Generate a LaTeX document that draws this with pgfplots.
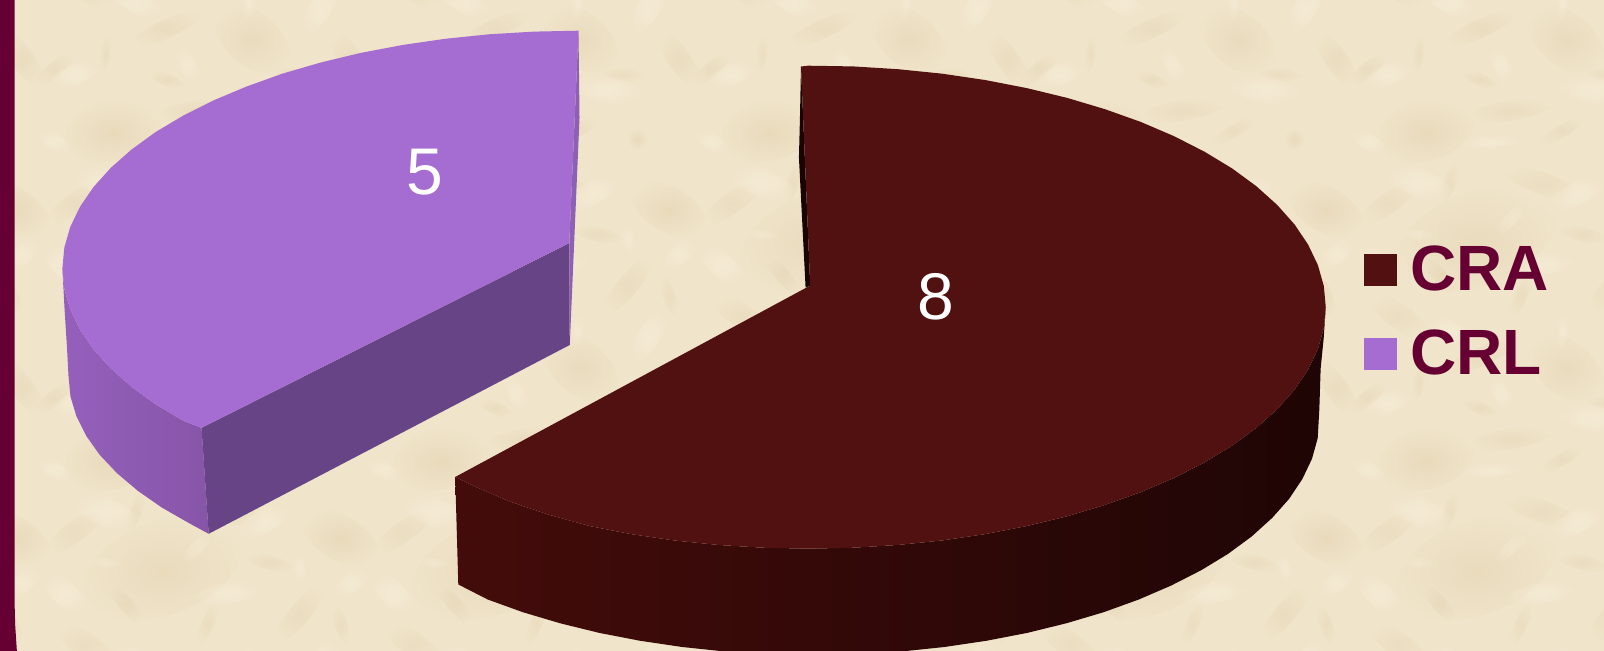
\documentclass[border=0pt]{standalone}
\usepackage{pgfplots}
\pgfplotsset{compat=1.18}
\usepackage{fontspec}
\setmainfont{Liberation Sans}
\usetikzlibrary{fadings}
\definecolor{paper}{HTML}{F0E4CA}
\definecolor{paperdark}{HTML}{DCC79E}
\definecolor{paperlight}{HTML}{FAF2DE}
\definecolor{frame}{HTML}{660033}
\definecolor{craTop}{HTML}{521111}
\definecolor{craSideL}{HTML}{430C0A}
\definecolor{craSideM}{HTML}{2C0707}
\definecolor{craSideR}{HTML}{1F0505}
\definecolor{craInner}{HTML}{1A0403}
\definecolor{crlTop}{HTML}{A56CD1}
\definecolor{crlSideL}{HTML}{9460BC}
\definecolor{crlSideR}{HTML}{8755A8}
\definecolor{crlFront}{HTML}{664485}
\definecolor{crlInner}{HTML}{8E60B5}
\tikzfading[name=soft, inner color=transparent!0, outer color=transparent!100]
\begin{document}
\begin{tikzpicture}
\useasboundingbox (0,0) rectangle (802pt,325.5pt);
% Paper background: flat tone with a repeated tile of soft, streaky mottling
\fill[paper] (0,0) rectangle (802pt,325.5pt);
\begin{scope}[x=0.5115pt,y=-0.5115pt,shift={(0pt,325.5pt)}]
\clip (0,0) rectangle (1568,636);
\foreach \ox in {-278,43,364,685,1006,1327}{
  \foreach \oy in {-162,159,480}{
    \foreach \bx/\by/\rx/\ry/\rt/\op in {116/75/80/46/20/.30,290/46/40/22/-30/.34,259/298/10/10/0/.35,67/289/48/30/15/.34,204/201/42/26/-40/.30,30/40/34/10/35/.24,180/20/40/11/-20/.24,250/120/36/10/50/.26,40/150/34/12/-35/.24,120/190/40/9/25/.26,300/220/34/11/-55/.26,150/270/42/10/10/.26,90/20/22/6/70/.24,220/70/26/7/-15/.26,10/230/24/7/40/.26,290/130/22/6/-70/.24,200/290/26/6/30/.24,80/110/26/7/-50/.26,160/130/24/6/65/.24,120/240/20/6/-25/.26,60/215/18/5/80/.24,245/235/22/6/-10/.24}{
      \fill[paperdark,opacity=\op,path fading=soft,rotate around={\rt:(\ox+\bx,\oy+\by)}] (\ox+\bx,\oy+\by) ellipse [x radius=\rx,y radius=\ry];
    }
    \foreach \bx/\by/\rx/\ry/\rt/\op in {60/20/40/14/-25/.50,215/30/36/11/30/.46,20/100/34/12/-45/.50,180/100/40/11/15/.46,90/165/34/10/-30/.46,270/170/36/11/55/.46,230/250/42/13/-15/.46,30/235/30/10/25/.46,140/225/26/8/-60/.42,300/90/26/9/40/.42,130/300/34/8/5/.46,10/300/26/8/-35/.42,250/75/20/6/-70/.38,150/55/24/6/45/.38,60/70/20/5/-10/.38,200/165/20/6/75/.38}{
      \fill[paperlight,opacity=\op,path fading=soft,rotate around={\rt:(\ox+\bx,\oy+\by)}] (\ox+\bx,\oy+\by) ellipse [x radius=\rx,y radius=\ry];
    }
  }
}
\end{scope}
\begin{axis}[
  at={(0,0)},anchor=south west,
  width=802pt,height=325.5pt,scale only axis,
  xmin=0,xmax=1568,ymin=0,ymax=636,y dir=reverse,
  hide axis,clip=true,
  legend style={at={(axis cs:1333,240)},anchor=north west,draw=none,fill=none,
    font=\bfseries\fontsize{32}{32}\selectfont,text=frame,
    inner xsep=0pt,inner ysep=0pt,row sep=18pt,
    nodes={inner xsep=0pt,inner ysep=0pt}},
  legend cell align=left,
  legend image code/.code={\fill[#1] (0pt,-8pt) rectangle (16.4pt,8pt);\path (23pt,0pt);},
]
% Slide frame along the left edge
\addplot[forget plot,fill=frame,draw=none] coordinates {
  (0,0)(14.3,0)(14.3,590)(14.8,610)(16.5,636)(0,636)} -- cycle;

% CRA: outer wall
\addplot[forget plot,draw=none,left color=craSideL,middle color=craSideM,right color=craSideR] coordinates {
  (1296,300)(1294.1,320.6)(1288.3,341)(1278.7,361.1)(1265.5,380.7)(1248.6,399.7)(1228.2,418)(1204.5,435.4)(1177.6,451.7)(1147.8,466.9)(1115.3,480.8)(1080.2,493.3)(1043,504.4)(1003.8,513.9)(963.1,521.8)(921,528)(877.8,532.4)(834.1,535.1)(790,536)(745.9,535.1)(702.2,532.4)(659,528)(616.9,521.8)(576.2,513.9)(537,503)(499.8,490.5)(464.7,475.5)(445,466)
  (448,571)(476.8,585.7)(511.1,598.1)(547.5,608.9)(585.8,618.3)(625.7,626)(666.9,632.1)(709,636.5)(751.8,639.1)(795,640)(838.2,639.1)(881,636.5)(923.1,632.1)(964.3,626)(1004.2,618.3)(1042.5,608.9)(1078.9,598.1)(1113.2,585.7)(1145,572)(1174.2,557.1)(1200.5,541.1)(1223.7,524)(1243.6,506)(1260.2,487.3)(1273.1,468)(1282.5,448.3)(1288.1,428.2)(1289.7,400)(1291,360)(1294,330)} -- cycle;
% CRA: inner wall seen beside the top face
\addplot[forget plot,fill=craInner,draw=none] coordinates {
  (783,65)(782,115)(781,154)(787.5,281)(792,279)} -- cycle;
% CRA: top face
\addplot[fill=craTop,draw=none] coordinates {
  (792,279)(783,65)(790,64.2)(834.1,64.9)(877.8,67.6)(921,72)(963.1,78.2)(1003.8,86.1)(1043,95.6)(1080.2,106.7)(1115.3,119.2)(1147.8,133.1)(1177.6,148.3)(1204.5,164.6)(1228.2,182)(1248.6,200.3)(1265.5,219.3)(1278.7,238.9)(1288.3,259)(1294.1,279.4)(1296,300)(1294.1,320.6)(1288.3,341)(1278.7,361.1)(1265.5,380.7)(1248.6,399.7)(1228.2,418)(1204.5,435.4)(1177.6,451.7)(1147.8,466.9)(1115.3,480.8)(1080.2,493.3)(1043,504.4)(1003.8,513.9)(963.1,521.8)(921,528)(877.8,532.4)(834.1,535.1)(790,536)(745.9,535.1)(702.2,532.4)(659,528)(616.9,521.8)(576.2,513.9)(537,503)(499.8,490.5)(464.7,475.5)(445,466)} -- cycle;
\addlegendentry{CRA}

% CRL: outer wall
\addplot[forget plot,draw=none,left color=crlSideL,right color=crlSideR] coordinates {
  (61,262)(62.9,282.2)(68.7,302.3)(78.2,322)(91.4,341.3)(108.3,360)(128.7,378)(152.3,395.1)(179.2,411.1)(197,418)
  (204,521.5)(185.2,511.3)(158.3,495.9)(134.7,479.5)(114.3,462.2)(97.4,444.3)(84.2,425.7)(74.7,406.7)(68.9,387.4)(67,368)(65.5,340)(63,300)} -- cycle;
% CRL: front wall
\addplot[forget plot,fill=crlFront,draw=none] coordinates {
  (197,418)(556.5,237.5)(557,337)(204,521.5)} -- cycle;
% CRL: inner wall seen at the right
\addplot[forget plot,fill=crlInner,draw=none] coordinates {
  (565.5,30)(566.5,115)(557,337)(556.5,237.5)} -- cycle;
% CRL: top face
\addplot[fill=crlTop,draw=none] coordinates {
  (556.5,237.5)(565.5,30)(522,30.9)(478.3,33.5)(435.3,37.9)(393.3,44)(352.6,51.7)(313.5,61.1)(276.3,71.9)(241.4,84.4)(208.9,98)(179.2,112.9)(152.3,128.9)(128.7,146)(108.3,164)(91.4,182.7)(78.2,202)(68.7,221.7)(62.9,241.8)(61,262)(62.9,282.2)(68.7,302.3)(78.2,322)(91.4,341.3)(108.3,360)(128.7,378)(152.3,395.1)(179.2,411.1)(197,418)} -- cycle;
\addlegendentry{CRL}

\node[text=white,font=\fontsize{33}{33}\selectfont] at (axis cs:415,168) {5};
\node[text=white,font=\fontsize{33}{33}\selectfont] at (axis cs:915,290) {8};
\end{axis}
\end{tikzpicture}
\end{document}
